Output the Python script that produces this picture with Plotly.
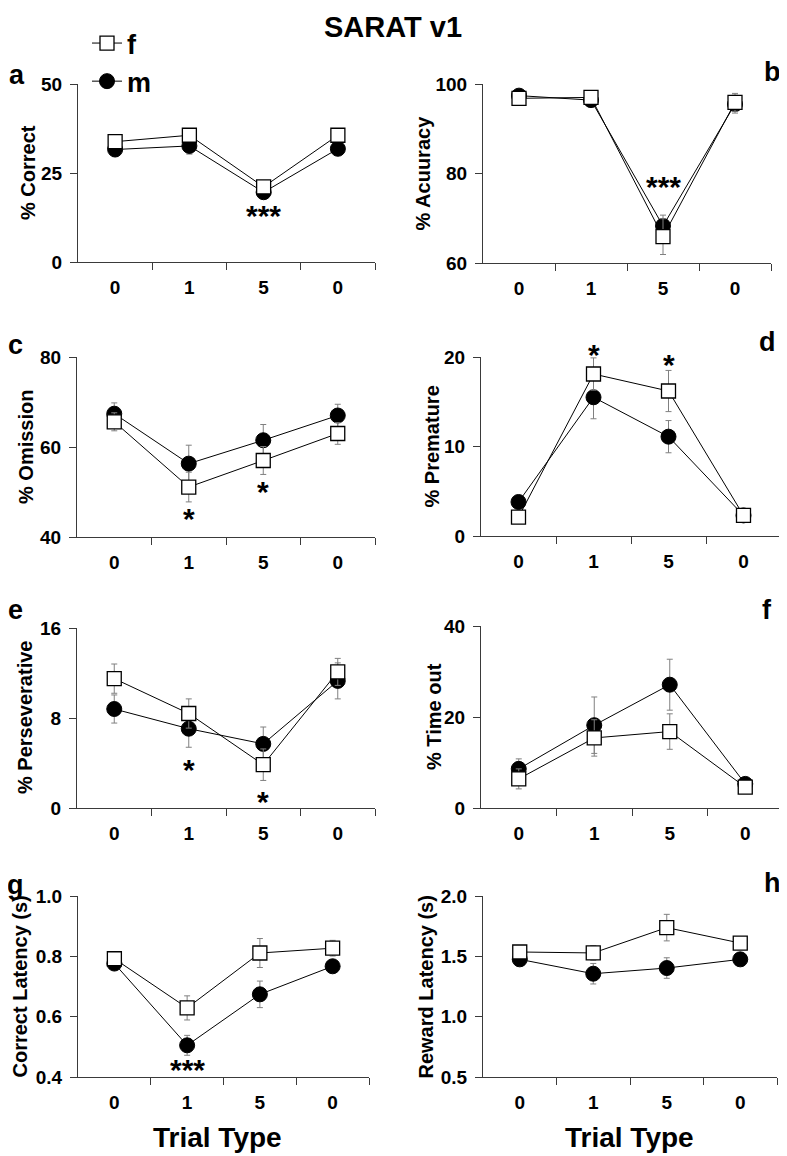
import plotly.graph_objects as go
from plotly.subplots import make_subplots

categories = ["0", "1", "5", "0"]

correct_f = [33.8, 35.6, 21.1, 35.6]
correct_f_err = [1.0, 1.0, 1.0, 1.0]
correct_m = [31.6, 32.6, 19.6, 31.8]
correct_m_err = [2.0, 2.3, 1.0, 1.0]

accuracy_f = [96.8, 97.0, 65.9, 95.9]
accuracy_f_err = [0.8, 0.6, 4.0, 2.0]
accuracy_m = [97.4, 96.4, 68.3, 95.5]
accuracy_m_err = [0.6, 0.8, 2.4, 2.0]

omission_f = [65.6, 51.1, 57.0, 63.0]
omission_f_err = [2.0, 3.3, 3.1, 2.4]
omission_m = [67.4, 56.3, 61.5, 67.0]
omission_m_err = [2.4, 4.1, 3.5, 2.5]

premature_f = [2.1, 18.1, 16.2, 2.3]
premature_f_err = [0.5, 1.8, 2.3, 0.5]
premature_m = [3.8, 15.5, 11.1, 2.3]
premature_m_err = [0.6, 2.4, 1.8, 0.4]

persev_f = [11.5, 8.4, 3.85, 12.1]
persev_f_err = [1.3, 1.3, 1.4, 1.2]
persev_m = [8.8, 7.05, 5.7, 11.3]
persev_m_err = [1.25, 1.65, 1.5, 1.6]

timeout_f = [6.4, 15.4, 16.8, 4.6]
timeout_f_err = [2.2, 4.0, 3.9, 0.8]
timeout_m = [8.6, 18.2, 27.1, 5.3]
timeout_m_err = [2.2, 6.2, 5.6, 0.8]

corrlat_f = [0.792, 0.629, 0.811, 0.827]
corrlat_f_err = [0.015, 0.04, 0.048, 0.026]
corrlat_m = [0.776, 0.505, 0.674, 0.767]
corrlat_m_err = [0.015, 0.033, 0.044, 0.015]

rewlat_f = [1.536, 1.528, 1.738, 1.61]
rewlat_f_err = [0.04, 0.06, 0.11, 0.04]
rewlat_m = [1.475, 1.356, 1.403, 1.475]
rewlat_m_err = [0.04, 0.085, 0.085, 0.04]

# stars: (category index, value, text, extra pixel shift)
panels = [
    dict(letter="a", ytitle="% Correct", f=correct_f, fe=correct_f_err, m=correct_m, me=correct_m_err,
         yr=[0, 50], yt=[0, 25, 50], yfmt=None, stars=[(2, 14.5, "***", 0)]),
    dict(letter="b", ytitle="% Acuuracy", f=accuracy_f, fe=accuracy_f_err, m=accuracy_m, me=accuracy_m_err,
         yr=[60, 100], yt=[60, 80, 100], yfmt=None, stars=[(2, 77.8, "***", 2)]),
    dict(letter="c", ytitle="% Omission", f=omission_f, fe=omission_f_err, m=omission_m, me=omission_m_err,
         yr=[40, 80], yt=[40, 60, 80], yfmt=None, stars=[(1, 45.2, "*", 0), (2, 51.3, "*", 0)]),
    dict(letter="d", ytitle="% Premature", f=premature_f, fe=premature_f_err, m=premature_m, me=premature_m_err,
         yr=[0, 20], yt=[0, 10, 20], yfmt=None, stars=[(1, 20.0, "*", 8), (2, 19.7, "*", 0)]),
    dict(letter="e", ytitle="% Perseverative", f=persev_f, fe=persev_f_err, m=persev_m, me=persev_m_err,
         yr=[0, 16], yt=[0, 8, 16], yfmt=None, stars=[(1, 3.9, "*", 0), (2, 1.0, "*", 0)]),
    dict(letter="f", ytitle="% Time out", f=timeout_f, fe=timeout_f_err, m=timeout_m, me=timeout_m_err,
         yr=[0, 40], yt=[0, 20, 40], yfmt=None, stars=[]),
    dict(letter="g", ytitle="Correct Latency (s)", f=corrlat_f, fe=corrlat_f_err, m=corrlat_m, me=corrlat_m_err,
         yr=[0.4, 1.0], yt=[0.4, 0.6, 0.8, 1.0], yfmt=".1f", stars=[(1, 0.44, "***", 0)]),
    dict(letter="h", ytitle="Reward Latency (s)", f=rewlat_f, fe=rewlat_f_err, m=rewlat_m, me=rewlat_m_err,
         yr=[0.5, 2.0], yt=[0.5, 1.0, 1.5, 2.0], yfmt=".1f", stars=[]),
]

# layout geometry in screen pixels (page has an 8px body margin)
OFF = 8
W, H = 787 - OFF, 1156 - OFF
x_px = [(78, 375), (483, 771), (77, 375), (481, 781), (77, 375), (481, 783), (78, 369), (483, 777)]
y_px = [(84, 262), (84, 263), (357, 537), (357, 536), (628, 808), (626, 808), (896, 1077), (896, 1077)]
letter_pos = [(17, 75), (772, 72), (15, 345), (767, 342), (15, 610), (767, 610), (15, 885), (772, 883)]
ytitle_x = [28, 423, 26, 432, 25, 434, 19, 425]


def fx(px):
    return (px - OFF) / W


def fy(py):
    return 1 - (py - OFF) / H


FONT = "Liberation Sans, Arial, sans-serif"
AX = "#3a3a3a"
EB = "#808080"

fig = make_subplots(rows=4, cols=2)
xs = list(range(len(categories)))

for i, p in enumerate(panels):
    r, c = i // 2 + 1, i % 2 + 1
    show = (i == 0)
    fig.add_trace(go.Scatter(
        x=xs, y=p["m"], name="m", legendgroup="m", legendrank=2, showlegend=show, mode="lines+markers",
        line=dict(color="black", width=1),
        marker=dict(symbol="circle", size=15, color="black", line=dict(color="black", width=1)),
        error_y=dict(type="data", array=p["me"], color=EB, thickness=1, width=3),
        cliponaxis=False), row=r, col=c)
    fig.add_trace(go.Scatter(
        x=xs, y=p["f"], name="f", legendgroup="f", legendrank=1, showlegend=show, mode="lines+markers",
        line=dict(color="black", width=1),
        marker=dict(symbol="square", size=14, color="white", line=dict(color="black", width=1.3)),
        error_y=dict(type="data", array=p["fe"], color=EB, thickness=1, width=3),
        cliponaxis=False), row=r, col=c)

    (x0, x1), (y0, y1) = x_px[i], y_px[i]
    xkey = "xaxis" if i == 0 else f"xaxis{i + 1}"
    ykey = "yaxis" if i == 0 else f"yaxis{i + 1}"
    xa = dict(domain=[fx(x0), fx(x1)], range=[-0.5, 3.5], tickmode="array", tickvals=xs, ticktext=categories,
              ticks="", showline=True, linecolor=AX, linewidth=1, showgrid=False, zeroline=False,
              automargin=False,
              tickfont=dict(family=FONT, size=19, color="black", weight="bold"), ticklabelstandoff=8,
              minor=dict(tickmode="array", tickvals=[0.5, 1.5, 2.5, 3.5], ticks="outside", ticklen=7,
                         tickcolor=AX, tickwidth=1, showgrid=False))
    ya = dict(domain=[fy(y1), fy(y0)], range=p["yr"], tickmode="array", tickvals=p["yt"],
              ticks="outside", ticklen=7, tickcolor=AX, showline=True, linecolor=AX, linewidth=1,
              showgrid=False, zeroline=False, automargin=False, ticklabelstandoff=4,
              tickfont=dict(family=FONT, size=19, color="black", weight="bold"))
    if p["yfmt"]:
        ya["tickformat"] = p["yfmt"]
    fig.layout[xkey].update(xa)
    fig.layout[ykey].update(ya)

    xref = "x" if i == 0 else f"x{i + 1}"
    yref = "y" if i == 0 else f"y{i + 1}"
    for (sx, sy, txt, sh) in p["stars"]:
        fig.add_annotation(x=sx, y=sy, xref=xref, yref=yref, text=txt, showarrow=False,
                           xanchor="center", yanchor="middle",
                           font=dict(family=FONT, size=30, color="black", weight="bold"), yshift=-5 + sh)
    # y-axis title
    fig.add_annotation(x=fx(ytitle_x[i]), y=fy((y0 + y1) / 2), xref="paper", yref="paper", text=p["ytitle"],
                       showarrow=False, textangle=-90, xanchor="center", yanchor="middle",
                       font=dict(family=FONT, size=20, color="black", weight="bold"))
    lx, ly = letter_pos[i]
    fig.add_annotation(x=fx(lx), y=fy(ly), xref="paper", yref="paper", text=p["letter"], showarrow=False,
                       xanchor="center", yanchor="middle",
                       font=dict(family=FONT, size=27, color="black", weight="bold"))

for tx in (217, 629):
    fig.add_annotation(x=fx(tx), y=fy(1137), xref="paper", yref="paper", text="Trial Type", showarrow=False,
                       xanchor="center", yanchor="middle",
                       font=dict(family=FONT, size=28, color="black", weight="bold"))

fig.add_annotation(x=fx(393), y=fy(27), xref="paper", yref="paper", text="SARAT v1", showarrow=False,
                   xanchor="center", yanchor="middle",
                   font=dict(family=FONT, size=29, color="black", weight="bold"))

fig.update_layout(
    width=W, height=H, margin=dict(l=0, r=0, t=0, b=0, autoexpand=False),
    paper_bgcolor="white", plot_bgcolor="white",
    showlegend=True,
    legend=dict(x=fx(87), y=fy(19), xanchor="left", yanchor="top", traceorder="grouped",
                tracegroupgap=0, itemwidth=30, bgcolor="rgba(0,0,0,0)",
                font=dict(family=FONT, size=27, color="black", weight="bold")),
)

fig.write_html("out.html")
